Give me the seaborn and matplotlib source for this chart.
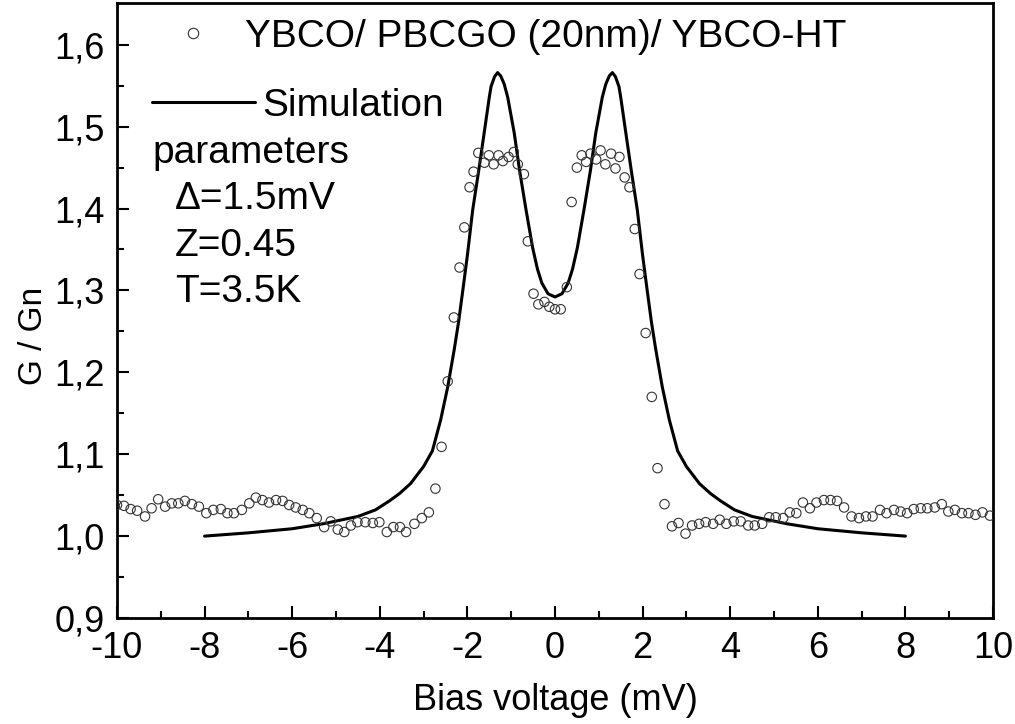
import matplotlib
matplotlib.use("Agg")
import matplotlib.pyplot as plt
from matplotlib.lines import Line2D
import seaborn as sns
import pandas as pd

# ---------------- data ----------------
exp_x = [-10.0, -9.84, -9.69, -9.54, -9.36, -9.21, -9.06, -8.90, -8.75, -8.60,
         -8.45, -8.29, -8.13, -7.96, -7.80, -7.63, -7.48, -7.33, -7.15, -6.98,
         -6.83, -6.68, -6.53, -6.37, -6.22, -6.07, -5.92, -5.76, -5.61, -5.44,
         -5.27, -5.12, -4.96, -4.81, -4.66, -4.51, -4.33, -4.16, -4.01, -3.84,
         -3.69, -3.54, -3.40,
         -3.21, -3.04, -2.88, -2.73, -2.59, -2.45, -2.31, -2.18, -2.07, -1.95,
         -1.86, -1.75, -1.61, -1.51, -1.40, -1.29, -1.19, -1.06, -0.94, -0.85,
         -0.71, -0.62, -0.49, -0.38, -0.24, -0.13, 0.00, 0.13, 0.27, 0.38,
         0.50, 0.61, 0.71, 0.81, 0.94, 1.04, 1.15, 1.28, 1.38, 1.47,
         1.59, 1.70, 1.82, 1.93, 2.07, 2.21, 2.34, 2.50, 2.67, 2.82,
         2.98, 3.13, 3.29, 3.44, 3.61, 3.76, 3.91, 4.08, 4.24, 4.41,
         4.56, 4.73, 4.89, 5.04, 5.21, 5.36, 5.51, 5.66, 5.82, 5.97,
         6.14, 6.29, 6.44, 6.60, 6.77, 6.94, 7.10, 7.25, 7.42, 7.57,
         7.74, 7.89, 8.04, 8.19, 8.35, 8.50, 8.67, 8.83, 8.98, 9.13,
         9.29, 9.44, 9.60, 9.76, 9.93]
exp_y = [1.038, 1.037, 1.033, 1.031, 1.024, 1.034, 1.045, 1.036, 1.040, 1.040,
         1.043, 1.039, 1.036, 1.028, 1.032, 1.033, 1.028, 1.028, 1.032, 1.040,
         1.047, 1.044, 1.041, 1.044, 1.043, 1.038, 1.035, 1.032, 1.028, 1.022,
         1.011, 1.018, 1.008, 1.005, 1.013, 1.017, 1.017, 1.016, 1.017, 1.005,
         1.011, 1.011, 1.005,
         1.015, 1.022, 1.029, 1.058, 1.109, 1.189, 1.267, 1.328, 1.377, 1.426,
         1.445, 1.468, 1.456, 1.465, 1.454, 1.465, 1.458, 1.463, 1.469, 1.454,
         1.442, 1.360, 1.296, 1.283, 1.286, 1.280, 1.277, 1.277, 1.304, 1.408,
         1.450, 1.465, 1.457, 1.467, 1.460, 1.471, 1.454, 1.467, 1.449, 1.463,
         1.438, 1.426, 1.375, 1.320, 1.248, 1.170, 1.083, 1.039, 1.012, 1.016,
         1.003, 1.013, 1.015, 1.017, 1.015, 1.020, 1.015, 1.018, 1.018, 1.013,
         1.013, 1.015, 1.023, 1.023, 1.022, 1.029, 1.028, 1.041, 1.034, 1.041,
         1.044, 1.044, 1.043, 1.035, 1.024, 1.022, 1.024, 1.024, 1.032, 1.028,
         1.032, 1.030, 1.028, 1.033, 1.034, 1.034, 1.035, 1.039, 1.030, 1.032,
         1.028, 1.028, 1.026, 1.029, 1.025]

sim_x = [-8.0, -7.0, -6.0, -5.3, -4.5, -4.1, -3.78, -3.55, -3.3, -3.0,
         -2.8, -2.61, -2.45, -2.3, -2.2, -2.1, -2.0, -1.88, -1.74, -1.61,
         -1.5, -1.46, -1.38, -1.31, -1.24, -1.16, -1.08, -0.93, -0.81, -0.66,
         -0.51, -0.4, -0.3, -0.16, 0.0,
         0.16, 0.3, 0.4, 0.51, 0.66, 0.81, 0.93, 1.08, 1.16, 1.24,
         1.31, 1.38, 1.46, 1.5, 1.61, 1.74, 1.88, 2.0, 2.1, 2.2,
         2.3, 2.45, 2.61, 2.8, 3.0, 3.3, 3.55, 3.78, 4.1, 4.5,
         5.3, 6.0, 7.0, 8.0]
sim_y = [1.000, 1.004, 1.009, 1.015, 1.024, 1.032, 1.043, 1.052, 1.064, 1.085,
         1.104, 1.142, 1.182, 1.228, 1.262, 1.302, 1.343, 1.398, 1.447, 1.495,
         1.536, 1.549, 1.561, 1.566, 1.562, 1.552, 1.536, 1.492, 1.447, 1.398,
         1.352, 1.326, 1.309, 1.296, 1.292,
         1.296, 1.309, 1.326, 1.352, 1.398, 1.447, 1.492, 1.536, 1.552, 1.562,
         1.566, 1.561, 1.549, 1.536, 1.495, 1.447, 1.398, 1.343, 1.302, 1.262,
         1.228, 1.182, 1.142, 1.104, 1.085, 1.064, 1.052, 1.043, 1.032, 1.024,
         1.015, 1.009, 1.004, 1.000]

x_ticks = [-10, -8, -6, -4, -2, 0, 2, 4, 6, 8, 10]
x_tick_labels = ["-10", "-8", "-6", "-4", "-2", "0", "2", "4", "6", "8", "10"]
y_ticks = [0.9, 1.0, 1.1, 1.2, 1.3, 1.4, 1.5, 1.6]
y_tick_labels = ["0,9", "1,0", "1,1", "1,2", "1,3", "1,4", "1,5", "1,6"]

exp_label = "YBCO/ PBCGO (20nm)/ YBCO-HT"
sim_label = "Simulation"
param_lines = ["parameters", "\u0394=1.5mV", "Z=0.45", "T=3.5K"]

# ---------------- style ----------------
sns.set_theme(style="ticks")
plt.rcParams["font.family"] = ["Liberation Sans", "DejaVu Sans"]
plt.rcParams["text.color"] = "black"
plt.rcParams["axes.labelcolor"] = "black"
plt.rcParams["legend.labelcolor"] = "black"
FS_LEG = 28
FS_TICK = 26
FS_XLAB = 26
FS_YLAB = 24

fig = plt.figure(figsize=(10.15, 7.24), dpi=100)
W, H = 1015, 724
L, R, T, B = 117, 993, 3, 618
ax = fig.add_axes([L / W, 1 - B / H, (R - L) / W, (B - T) / H])

df_exp = pd.DataFrame({"V": exp_x, "G": exp_y})
df_sim = pd.DataFrame({"V": sim_x, "G": sim_y})

sns.scatterplot(data=df_exp, x="V", y="G", ax=ax, marker="o", s=46,
                facecolor="none", edgecolor="#333333", linewidth=0.8, zorder=3)
sns.lineplot(data=df_sim, x="V", y="G", ax=ax, color="black", linewidth=2.2,
             sort=False, estimator=None, zorder=2)

ax.set_xlim(-10, 10)
ax.set_ylim(0.9, 1.651)
ax.set_xticks(x_ticks)
ax.set_xticklabels(x_tick_labels)
ax.set_yticks(y_ticks)
ax.set_yticklabels(y_tick_labels)
ax.set_xticks([v + 1 for v in x_ticks[:-1]], minor=True)
ax.set_yticks([v + 0.05 for v in y_ticks[:-1]], minor=True)
ax.tick_params(which="both", direction="in", width=1.5, top=False, right=False,
               labelsize=FS_TICK, colors="black")
ax.tick_params(which="major", length=8.5)
ax.tick_params(which="minor", length=5)
ax.tick_params(axis="x", pad=9)
ax.tick_params(axis="y", pad=9)
for s in ax.spines.values():
    s.set_visible(True)
    s.set_linewidth(2.0)
    s.set_color("black")

def axfrac(px, py):
    return ((px - L) / (R - L), (B - py) / (B - T))

ax.set_xlabel("Bias voltage (mV)", fontsize=FS_XLAB, va="center")
ax.xaxis.set_label_coords(*axfrac(555, 701))
ax.set_ylabel("G / Gn", fontsize=FS_YLAB, va="center")
ax.yaxis.set_label_coords(*axfrac(33, 336))

# legends
h1 = Line2D([], [], ls="none", marker="o", markersize=7.5, markerfacecolor="none",
            markeredgecolor="#333333", markeredgewidth=0.8)
leg1 = ax.legend([h1], [exp_label], loc="upper left", bbox_to_anchor=axfrac(154, 19),
                 frameon=False, fontsize=FS_LEG, handlelength=2.0, handletextpad=0.34,
                 borderpad=0, borderaxespad=0, labelcolor="black")
ax.add_artist(leg1)
h2 = Line2D([], [], color="black", linewidth=2.2)
ax.legend([h2], [sim_label], loc="upper left", bbox_to_anchor=axfrac(152, 88),
          frameon=False, fontsize=FS_LEG, handlelength=2.65, handletextpad=0.18,
          borderpad=0, borderaxespad=0, labelcolor="black")

param_pos = [(152, 153), (175, 199), (175, 246), (175, 292)]
for txt, (px, py) in zip(param_lines, param_pos):
    ax.text(*axfrac(px, py), txt, transform=ax.transAxes, fontsize=FS_LEG,
            ha="left", va="center", color="black")

fig.savefig("out.png", dpi=100)
